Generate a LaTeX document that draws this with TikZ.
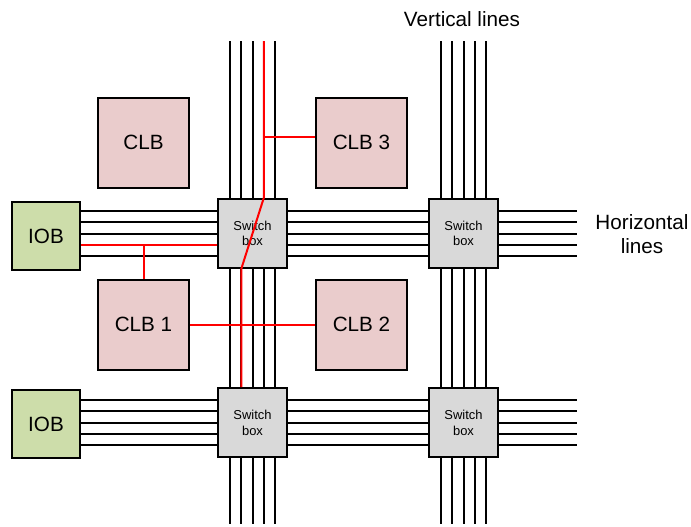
\documentclass[tikz,border=0pt]{standalone}
\usepackage{fontspec}
\setmainfont{Liberation Sans}
\usepackage{tikz}
\usetikzlibrary{calc}

\definecolor{clbpink}{RGB}{234,204,204}
\definecolor{iobgreen}{RGB}{205,221,170}
\definecolor{swgray}{RGB}{217,217,217}

\begin{document}
\begin{tikzpicture}[x=0.75pt, y=-0.75pt, line width=1.5pt,
    every node/.style={font=\fontsize{15.5}{18}\selectfont},
    clbbox/.style={draw, fill=clbpink, minimum width=68.25pt, minimum height=67.5pt, inner sep=0pt},
    iobbox/.style={draw, fill=iobgreen, minimum width=51pt, minimum height=51pt, inner sep=0pt},
    swbox/.style={draw, fill=swgray, minimum width=51.75pt, minimum height=51.75pt, inner sep=0pt,
        align=center, font=\fontsize{9.7}{11.8}\selectfont},
    redwire/.style={red, line width=1.5pt}]
        \useasboundingbox (0,0) rectangle (691,526);

        % Blocks
        \node[iobbox] (iobA) at (46,236) {IOB};
        \node[iobbox] (iobB) at (46,424) {IOB};
        \node[clbbox] (clb) at (143.5,142.5) {CLB};
        \node[clbbox] (clbC) at (361.5,142.5) {CLB 3};
        \node[clbbox] (clbA) at (143.5,324.5) {CLB 1};
        \node[clbbox] (clbB) at (361.5,324.5) {CLB 2};
        \node[swbox] (swA) at (252.5,233.5) {Switch\\box};
        \node[swbox] (swB) at (463.5,233.5) {Switch\\box};
        \node[swbox] (swC) at (252.5,422.5) {Switch\\box};
        \node[swbox] (swD) at (463.5,422.5) {Switch\\box};

        % Labels
        \node (vlab) at (462,19) {Vertical lines};
        \node[align=center] (hlab) at (642,234) {Horizontal\\lines};

        % Ends of the routing lines
        \coordinate (topA) at (252.5,41);
        \coordinate (botA) at (252.5,524);
        \coordinate (topB) at (463.5,41);
        \coordinate (botB) at (463.5,524);
        \coordinate (endA) at (577,233.5);
        \coordinate (endB) at (577,422.5);

        % Vertical lines
        \foreach \t/\u/\v/\b in {topA/swA/swC/botA, topB/swB/swD/botB} {
            \foreach \d in {-22.5,-11.25,0,11.25,22.5} {
                \draw ($(\t)+(\d,0)$) -- ($(\u.north)+(\d,0)$)
                      ($(\u.south)+(\d,0)$) -- ($(\v.north)+(\d,0)$)
                      ($(\v.south)+(\d,0)$) -- ($(\b)+(\d,0)$);
            }
        }

        % Horizontal lines
        \foreach \i/\u/\v/\e in {iobA/swA/swB/endA, iobB/swC/swD/endB} {
            \foreach \d in {-22.5,-11.25,0,11.25,22.5} {
                \draw ($(\i.east |- \u.west)+(0,\d)$) -- ($(\u.west)+(0,\d)$)
                      ($(\u.east)+(0,\d)$) -- ($(\v.west)+(0,\d)$)
                      ($(\v.east)+(0,\d)$) -- ($(\e)+(0,\d)$);
            }
        }

        % Routed nets
        \coordinate (tapC) at (263.75,137);
        \coordinate (tapA) at (143.5,244.75);
        \draw[redwire] ($(topA)+(11.25,0)$) -- ($(swA.north)+(11.25,0)$)
              -- ($(swA.south)+(-11.25,0)$) -- ($(swC.north)+(-11.25,0)$);
        \draw[redwire] (tapC) -- (tapC -| clbC.west);
        \draw[redwire] (iobA.east |- tapA) -- (swA.west |- tapA);
        \draw[redwire] (tapA) -- (clbA.north);
        \draw[redwire] (clbA.east) -- (clbB.west);
    \end{tikzpicture}
\end{document}
